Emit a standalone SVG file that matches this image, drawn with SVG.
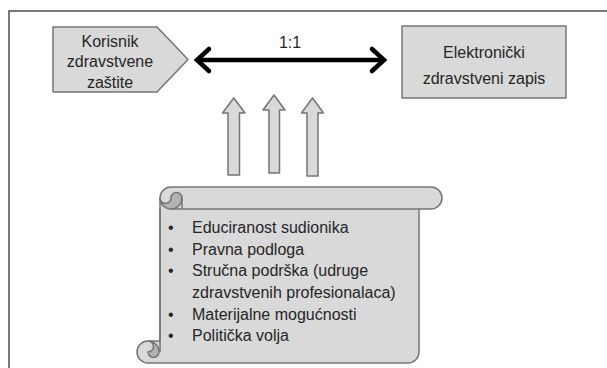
<svg xmlns="http://www.w3.org/2000/svg" width="607" height="368" viewBox="0 0 607 368">
<defs>
<style>
.frame{fill:none;stroke:#595959;stroke-width:1.6}
.shape{fill:#d9d9d9;stroke:#747474;stroke-width:1.5;stroke-linejoin:round}
.dark{fill:#b3b3b3;stroke:none}
.line{fill:none;stroke:#747474;stroke-width:1.5}
.t{font-family:"Liberation Sans",Arial,sans-serif;font-size:16px;fill:#262626}
.c{text-anchor:middle}
.conn{fill:none;stroke:#000;stroke-width:4.5;stroke-linecap:round;stroke-linejoin:miter}
</style>
</defs>
<rect x="0" y="0" width="607" height="368" fill="#fff"/>
<rect class="frame" x="9" y="11" width="620" height="400"/>

<g id="korisnik">
<polygon class="shape" points="53,27 157,27 188,59.5 157,92 53,92"/>
<text class="t c" x="110" y="46.5">Korisnik</text>
<text class="t c" x="110" y="67">zdravstvene</text>
<text class="t c" x="110" y="87.5">zaštite</text>
</g>

<g id="ezapis">
<rect class="shape" x="402" y="26" width="164" height="72" stroke-linejoin="miter"/>
<text class="t c" x="484" y="58">Elektronički</text>
<text class="t c" x="484" y="84">zdravstveni zapis</text>
</g>

<g id="connectors">
<line class="conn" x1="199" y1="60" x2="382" y2="60"/>
<polyline class="conn" points="209,49 197,60 209,71"/>
<polyline class="conn" points="372,49 384,60 372,71"/>
<text class="t c" x="290" y="48">1:1</text>
<polygon class="shape" points="228,175 228,113 222.5,113 233.75,98 245,113 239.5,113 239.5,175" stroke-linejoin="miter"/>
<polygon class="shape" points="269,173 269,110 263,110 274,95 285,110 279.5,110 279.5,173" stroke-linejoin="miter"/>
<polygon class="shape" points="307,176 307,113 301.5,113 312.5,98 323.5,113 318,113 318,176" stroke-linejoin="miter"/>
</g>

<g id="scroll">
<path class="shape" d="M160,198 A11,11 0 0 1 171,187 L431,187 A11,11 0 0 1 431,209 L419,209 L419,352 A11,11 0 0 1 408,363 L148,363 A11,11 0 0 1 148,341 L160,341 Z"/>
<path class="dark" d="M160,198 A11,11 0 0 0 182,198 A5.5,5.5 0 0 0 171,198 A5.5,5.5 0 0 1 160,198 Z"/>
<path class="line" d="M160,198 A11,11 0 0 0 182,198 A5.5,5.5 0 0 0 171,198 A5.5,5.5 0 0 1 160,198"/>
<path class="line" d="M182,198 L182,209 M171,209 L419,209"/>
<path class="dark" d="M148,341 A11,11 0 0 1 159,352 A5.5,5.5 0 0 1 148,352 A5.5,5.5 0 0 0 148,341 Z"/>
<path class="line" d="M148,341 A11,11 0 0 1 159,352 A5.5,5.5 0 0 1 148,352 A5.5,5.5 0 0 0 148,341"/>
<line class="line" x1="160" y1="209" x2="160" y2="352"/>
<g class="t">
<text x="168" y="233">•</text><text x="192" y="233">Educiranost sudionika</text>
<text x="168" y="254.5">•</text><text x="192" y="254.5">Pravna podloga</text>
<text x="168" y="276">•</text><text x="192" y="276">Stručna podrška (udruge</text>
<text x="192" y="298">zdravstvenih profesionalaca)</text>
<text x="168" y="319.5">•</text><text x="192" y="319.5">Materijalne mogućnosti</text>
<text x="168" y="341">•</text><text x="192" y="341">Politička volja</text>
</g>
</g>
</svg>
